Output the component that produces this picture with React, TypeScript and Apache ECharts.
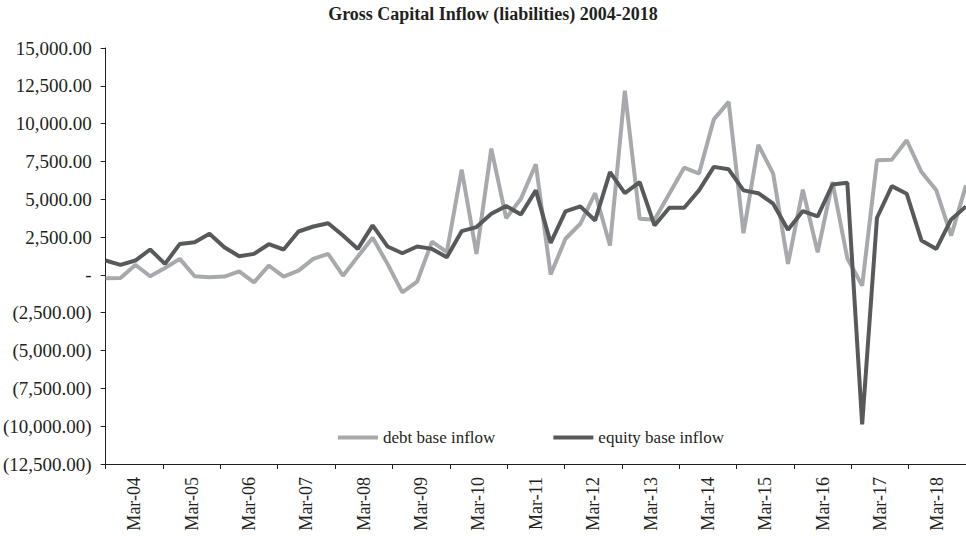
import React, { useEffect, useRef } from "react";
import * as echarts from "echarts";

const years = ["04", "05", "06", "07", "08", "09", "10", "11", "12", "13", "14", "15", "16", "17", "18"];
const months = ["Mar", "Jun", "Sep", "Dec"];
const yearLabels = years.map((y) => `Mar-${y}`);
const quarters: string[] = [];
years.forEach((y) => months.forEach((m) => quarters.push(`${m}-${y}`)));
const quarterLabels = quarters.slice(0, 59);

const debtBaseInflow = [
  -225, -200, 660, -90, 460, 1060, -90, -160, -110, 240, -490, 620,
  -110, 285, 1060, 1390, -50, 1210, 2450, 730, -1150, -440, 2200, 1500,
  6960, 1390, 8350, 3750, 5040, 7310, 20, 2390, 3380, 5400, 1940, 12170,
  3710, 3650, 5370, 7090, 6700, 10280, 11440, 2760, 8600, 6700, 730, 5640,
  1500, 6140, 1100, -710, 7580, 7620, 8900, 6800, 5590, 2600, 5920,
];
const equityBaseInflow = [
  950, 660, 950, 1680, 730, 2050, 2160, 2720, 1830, 1230, 1390, 2030,
  1680, 2870, 3200, 3420, 2600, 1720, 3270, 1880, 1430, 1880, 1720, 1170,
  2890, 3160, 4040, 4550, 4000, 5590, 2120, 4200, 4530, 3600, 6800, 5410,
  6140, 3270, 4440, 4440, 5590, 7140, 6980, 5590, 5400, 4710, 2980, 4220,
  3870, 5970, 6090, -9880, 3780, 5870, 5370, 2270, 1720, 3670, 4530,
];

const FONT = "Liberation Serif";

function fmt(v: number): string {
  if (v === 0) return "-";
  const s = Math.abs(v).toLocaleString("en-US", { minimumFractionDigits: 2, maximumFractionDigits: 2 });
  return v < 0 ? `(${s})` : s;
}

export default function App() {
  const ref = useRef<HTMLDivElement>(null);
  useEffect(() => {
    if (!ref.current) return;
    const chart = echarts.init(ref.current, undefined, { renderer: "svg" });
    const axisColor = "#231f20";
    chart.setOption({
      animation: false,
      backgroundColor: "#ffffff",
      title: {
        text: "Gross Capital Inflow (liabilities) 2004-2018",
        left: 488,
        textAlign: "center",
        top: 0,
        textStyle: { fontFamily: FONT, fontSize: 18, fontWeight: "bold", color: "#231f20" },
      },
      legend: {
        left: 333,
        top: 424,
        icon: "rect",
        itemWidth: 40,
        itemHeight: 4,
        itemGap: 58,
        textStyle: { fontFamily: FONT, fontSize: 17, color: "#231f20" },
        data: ["debt base inflow", "equity base inflow"],
      },
      grid: { left: 105, right: 0, top: 48, bottom: 72, containLabel: false },
      xAxis: [
        {
          type: "category",
          data: quarterLabels,
          boundaryGap: false,
          show: false,
        },
        {
          type: "category",
          data: yearLabels,
          boundaryGap: true,
          position: "bottom",
          axisLine: { show: true, onZero: true, lineStyle: { color: axisColor, width: 1 } },
          axisTick: { show: true, length: 5, lineStyle: { color: axisColor } },
          axisLabel: { show: false },
        },
        {
          type: "category",
          data: yearLabels,
          boundaryGap: true,
          position: "bottom",
          axisLine: { show: true, onZero: false, lineStyle: { color: axisColor, width: 1 } },
          axisTick: { show: true, length: 5, lineStyle: { color: axisColor } },
          axisLabel: {
            show: true,
            rotate: 90,
            interval: 0,
            margin: 13,
            fontFamily: FONT,
            fontSize: 18,
            color: "#231f20",
          },
        },
      ],
      yAxis: {
        type: "value",
        min: -12500,
        max: 15000,
        interval: 2500,
        splitLine: { show: false },
        axisLine: { show: true, lineStyle: { color: axisColor, width: 1 } },
        axisTick: { show: true, length: 5, lineStyle: { color: axisColor } },
        axisLabel: {
          formatter: (v: number) => fmt(v),
          fontFamily: FONT,
          fontSize: 19,
          color: "#231f20",
          margin: 14,
        },
      },
      series: [
        {
          name: "debt base inflow",
          type: "line",
          xAxisIndex: 0,
          data: debtBaseInflow,
          symbol: "none",
          lineStyle: { color: "#a7a9ac", width: 4 },
          itemStyle: { color: "#a7a9ac" },
        },
        {
          name: "equity base inflow",
          type: "line",
          xAxisIndex: 0,
          data: equityBaseInflow,
          symbol: "none",
          lineStyle: { color: "#58595b", width: 4 },
          itemStyle: { color: "#58595b" },
        },
      ],
    });
    return () => chart.dispose();
  }, []);
  return (
    <div
      ref={ref}
      style={{ position: "absolute", left: 0, top: 0, width: 966, height: 536 }}
    />
  );
}
